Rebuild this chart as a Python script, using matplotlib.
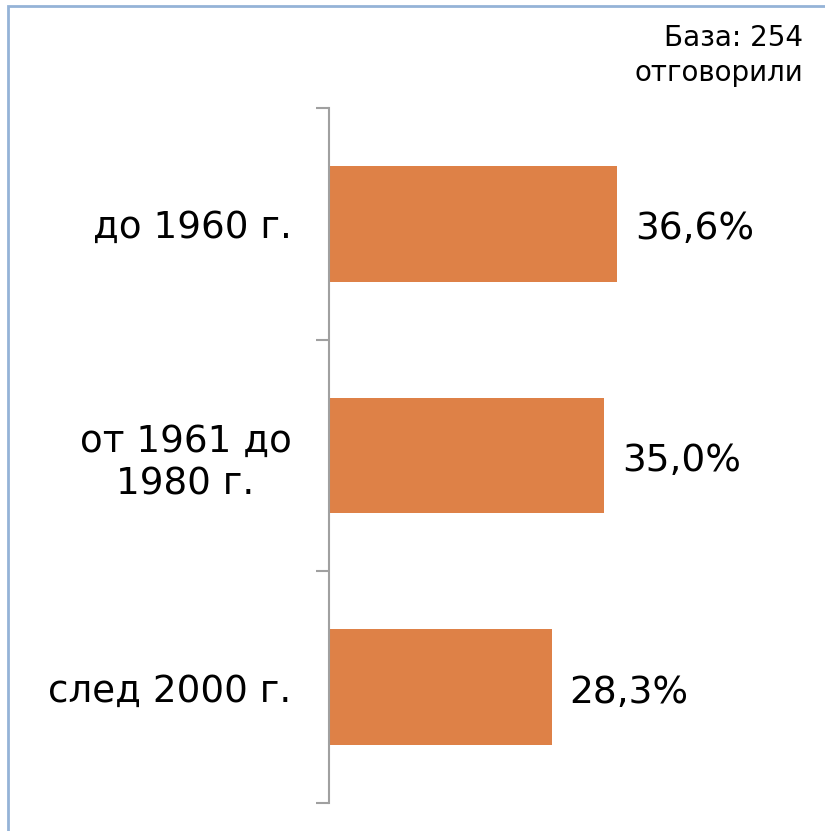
import matplotlib
matplotlib.use('Agg')
import matplotlib.pyplot as plt
from matplotlib.patches import Rectangle

categories = ['до 1960 г.', 'от 1961 до\n1980 г.', 'след 2000 г.']
values = [36.6, 35.0, 28.3]
value_labels = ['36,6%', '35,0%', '28,3%']

plt.rcParams['font.family'] = ['DejaVu Sans']

fig = plt.figure(figsize=(8.25, 8.31), dpi=100)
W, H = 825, 831

# рамка на диаграмата
fig.patches.append(Rectangle((8 / W, -0.1), 1.2, 1.1 - 6 / H, transform=fig.transFigure,
                             fill=False, edgecolor='#95B3D7', linewidth=2))

ax = fig.add_axes([329 / W, (H - 803) / H, 472 / W, 695 / H])
pos = list(range(len(categories)))
ax.barh(pos, values, height=0.5, color='#DE8147')
ax.set_xlim(0, 60)
ax.set_ylim(2.5, -0.5)

for p, v, lab in zip(pos, values, value_labels):
    ax.annotate(lab, (v, p), xytext=(13, -4), textcoords='offset points',
                va='center', ha='left', fontsize=27, color='black')

for s in ['top', 'right', 'bottom']:
    ax.spines[s].set_visible(False)
ax.spines['left'].set_color('#A0A0A0')
ax.spines['left'].set_linewidth(1.5)
ax.set_xticks([])

ax.set_yticks([-0.5, 0.5, 1.5, 2.5])
ax.set_yticklabels([])
ax.tick_params(axis='y', which='major', length=9.5, width=1.5, color='#A0A0A0')
ax.set_yticks(pos, minor=True)
ax.set_yticklabels(categories, minor=True, fontsize=26.8, multialignment='center',
                   linespacing=1.2)
ax.tick_params(axis='y', which='minor', length=0, pad=27)

fig.text(803 / W, 1 - 24 / H, 'База: 254\nотговорили', ha='right', va='top',
         fontsize=20, linespacing=1.3)

fig.savefig('out.png', dpi=100)
